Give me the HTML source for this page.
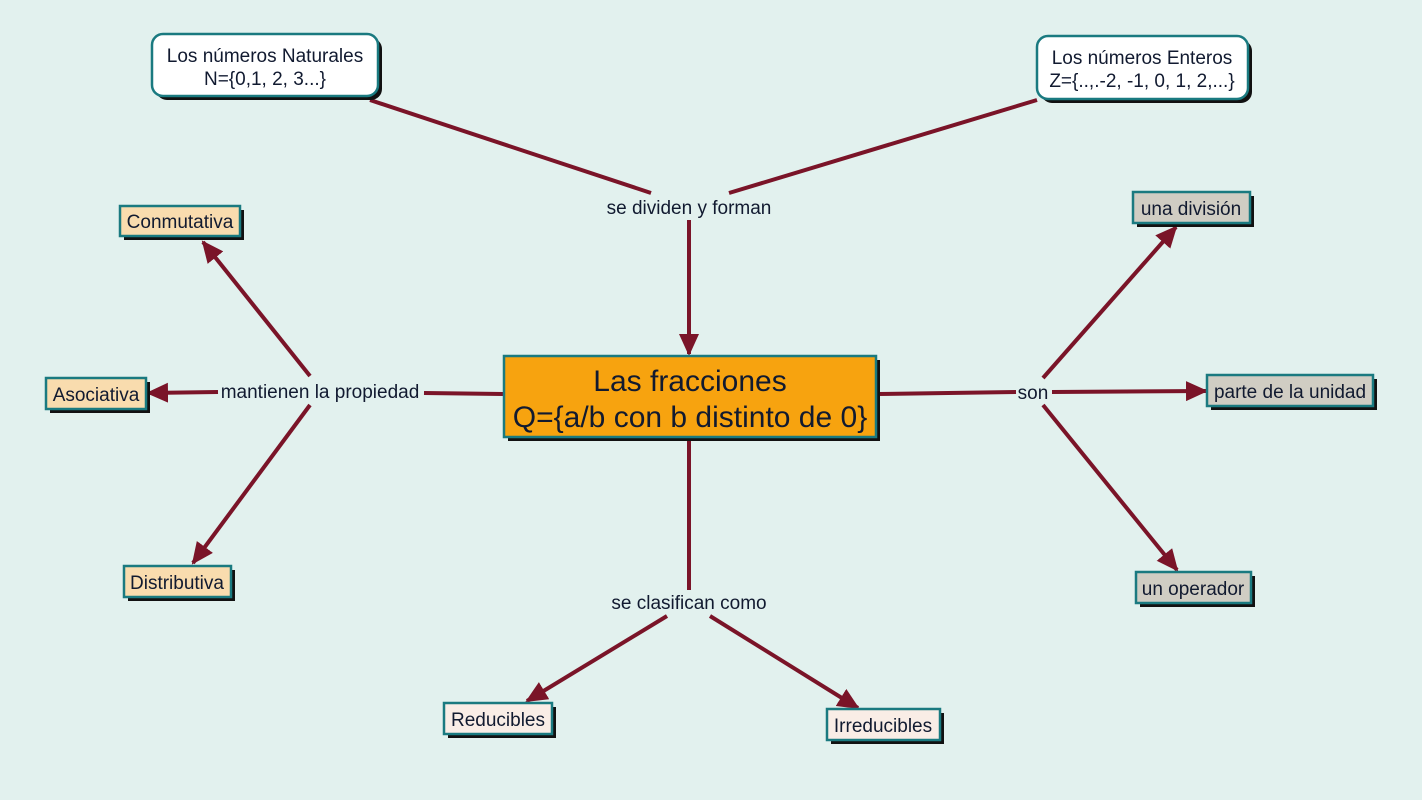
<!DOCTYPE html>
<html><head><meta charset="utf-8"><style>
html,body{margin:0;padding:0;background:#e2f1ee;}
svg{display:block}
text{font-family:"Liberation Sans",sans-serif;fill:#111a30;}
</style></head><body>
<svg width="1422" height="800" viewBox="0 0 1422 800">
<defs>
<marker id="b" markerWidth="22" markerHeight="20" refX="20" refY="10" orient="auto" markerUnits="userSpaceOnUse" viewBox="0 0 22 20">
<path d="M0,0 L22,10 L0,20 z" fill="#7a1428"/></marker>
</defs>
<g stroke="#7a1428" stroke-width="4" fill="none">
<line x1="370" y1="100" x2="651" y2="193"/>
<line x1="1037" y1="100" x2="729" y2="193"/>
<line x1="689" y1="220" x2="689" y2="354" marker-end="url(#b)"/>
<line x1="503" y1="394" x2="424" y2="393"/>
<line x1="310" y1="376" x2="203" y2="242" marker-end="url(#b)"/>
<line x1="218" y1="392" x2="148" y2="393" marker-end="url(#b)"/>
<line x1="310" y1="405" x2="193" y2="563" marker-end="url(#b)"/>
<line x1="878" y1="394" x2="1016" y2="392"/>
<line x1="1043" y1="378" x2="1176" y2="227" marker-end="url(#b)"/>
<line x1="1052" y1="392" x2="1206" y2="391" marker-end="url(#b)"/>
<line x1="1043" y1="405" x2="1177" y2="570" marker-end="url(#b)"/>
<line x1="689" y1="440" x2="689" y2="590"/>
<line x1="667" y1="616" x2="527" y2="701" marker-end="url(#b)"/>
<line x1="710" y1="616" x2="858" y2="708" marker-end="url(#b)"/>
</g>
<g stroke-width="2.5" stroke="#1a7a80">
<rect x="156" y="38" width="226" height="62" rx="11" fill="#111" stroke="none"/>
<rect x="152" y="34" width="226" height="62" rx="11" fill="#fff"/>
<rect x="1041" y="40" width="211" height="63" rx="11" fill="#111" stroke="none"/>
<rect x="1037" y="36" width="211" height="63" rx="11" fill="#fff"/>
<rect x="508" y="360" width="372" height="81" fill="#111" stroke="none"/>
<rect x="504" y="356" width="372" height="81" fill="#f7a30f"/>
<rect x="124" y="210" width="120" height="30" fill="#111" stroke="none"/>
<rect x="120" y="206" width="120" height="30" fill="#f9dcae"/>
<rect x="50" y="382" width="100" height="31" fill="#111" stroke="none"/>
<rect x="46" y="378" width="100" height="31" fill="#f9dcae"/>
<rect x="128" y="570" width="107" height="31" fill="#111" stroke="none"/>
<rect x="124" y="566" width="107" height="31" fill="#f9dcae"/>
<rect x="1137" y="196" width="117" height="31" fill="#111" stroke="none"/>
<rect x="1133" y="192" width="117" height="31" fill="#d0cdc3"/>
<rect x="1211" y="379" width="166" height="31" fill="#111" stroke="none"/>
<rect x="1207" y="375" width="166" height="31" fill="#d0cdc3"/>
<rect x="1140" y="576" width="115" height="31" fill="#111" stroke="none"/>
<rect x="1136" y="572" width="115" height="31" fill="#d0cdc3"/>
<rect x="448" y="707" width="108" height="31" fill="#111" stroke="none"/>
<rect x="444" y="703" width="108" height="31" fill="#f9ede6"/>
<rect x="831" y="713" width="113" height="31" fill="#111" stroke="none"/>
<rect x="827" y="709" width="113" height="31" fill="#f9ede6"/>
</g>
<g font-size="19" text-anchor="middle">
<text x="265" y="62">Los números Naturales</text>
<text x="265" y="85">N={0,1, 2, 3...}</text>
<text x="1142" y="64">Los números Enteros</text>
<text x="1142" y="87">Z={..,.-2, -1, 0, 1, 2,...}</text>
<text x="180" y="228">Conmutativa</text>
<text x="96" y="401">Asociativa</text>
<text x="177" y="589">Distributiva</text>
<text x="1191" y="215">una división</text>
<text x="1290" y="398">parte de la unidad</text>
<text x="1193" y="595">un operador</text>
<text x="498" y="726">Reducibles</text>
<text x="883" y="732">Irreducibles</text>
<text x="689" y="214">se dividen y forman</text>
<text x="320" y="398">mantienen la propiedad</text>
<text x="1033" y="399">son</text>
<text x="689" y="609">se clasifican como</text>
</g>
<g font-size="30" text-anchor="middle">
<text x="690" y="391">Las fracciones</text>
<text x="690" y="427">Q={a/b con b distinto de 0}</text>
</g>
</svg>
</body></html>
